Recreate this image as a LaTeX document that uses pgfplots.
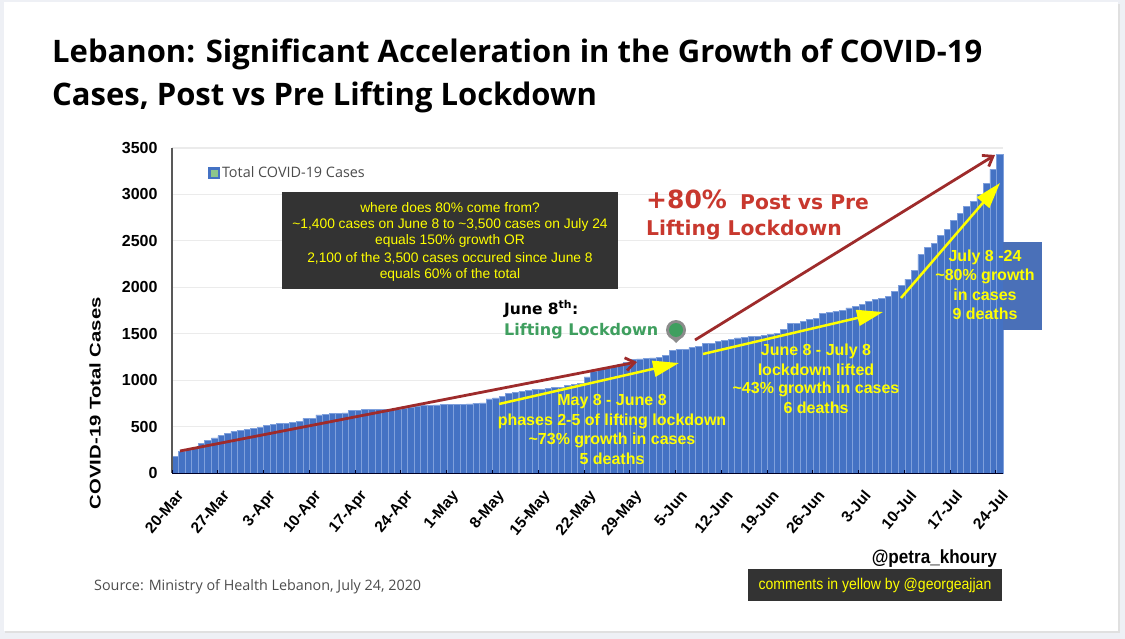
\documentclass[border=0pt]{standalone}
\usepackage{fontspec}
\setmainfont{Liberation Sans}
\newfontfamily\opensans{Open Sans}
\newfontfamily\dejavu{DejaVu Sans}
\usepackage{graphicx}
\usepackage{pgfplots}
\pgfplotsset{compat=1.18}
\usepackage{pgfplotstable}
\usetikzlibrary{arrows.meta}

\definecolor{barblue}{HTML}{4472C4}
\definecolor{baredge}{HTML}{7FA0DC}
\definecolor{darkred}{HTML}{9E2B2B}
\definecolor{txtred}{HTML}{C8382E}
\definecolor{pingreen}{HTML}{3F9F5F}
\definecolor{boxgrey}{HTML}{333333}
\definecolor{boxblue}{HTML}{4A70B8}
\definecolor{noteyellow}{HTML}{FFFF00}
\definecolor{pagegrey}{HTML}{EEF0F5}

\pgfplotstableread{
day cases
0 180
1 233
2 251
3 269
4 316
5 348
6 377
7 402
8 424
9 449
10 456
11 467
12 481
13 495
14 510
15 520
16 531
17 538
18 549
19 556
20 589
21 589
22 625
23 635
24 642
25 646
26 648
27 671
28 678
29 682
30 686
31 689
32 689
33 689
34 690
35 700
36 710
37 718
38 725
39 732
40 733
41 736
42 739
43 740
44 743
45 745
46 750
47 754
48 797
49 808
50 825
51 854
52 872
53 879
54 890
55 897
56 904
57 912
58 919
59 926
60 940
61 958
62 969
63 1034
64 1095
65 1113
66 1125
67 1150
68 1170
69 1195
70 1220
71 1228
72 1235
73 1240
74 1249
75 1270
76 1320
77 1328
78 1335
79 1350
80 1364
81 1392
82 1400
83 1418
84 1428
85 1443
86 1454
87 1461
88 1468
89 1475
90 1482
91 1493
92 1504
93 1543
94 1608
95 1615
96 1633
97 1651
98 1669
99 1716
100 1730
101 1744
102 1755
103 1777
104 1795
105 1813
106 1845
107 1866
108 1881
109 1902
110 1956
111 2021
112 2089
113 2182
114 2351
115 2433
116 2469
117 2556
118 2620
119 2717
120 2792
121 2871
122 2925
123 2997
124 3123
125 3273
126 3428
}\casestable

\begin{document}
\begin{tikzpicture}
% page and card, coordinates in reference pixels from the top left
\begin{scope}[x=1pt,y=-1pt]
\path[use as bounding box,fill=pagegrey] (0,0) rectangle (1125,639);
\fill[black!12] (5,4) rectangle (1120,633);
\fill[white] (4,2) rectangle (1118,631);
\end{scope}

\begin{axis}[
    at={(172pt,-473pt)}, anchor=south west,
    scale only axis, width=831pt, height=325pt,
    xmin=-0.5, xmax=126.5, ymin=0, ymax=3500,
    ybar, bar shift=0pt, bar width=6.54pt,
    axis line style={draw=none},
    ytick={0,500,...,3500},
    ymajorgrids, grid style={draw=black!8, line width=1.2pt},
    xtick={-0.5,6.5,...,125.5},
    xticklabels={20-Mar,27-Mar,3-Apr,10-Apr,17-Apr,24-Apr,1-May,8-May,15-May,22-May,29-May,5-Jun,12-Jun,19-Jun,26-Jun,3-Jul,10-Jul,17-Jul,24-Jul},
    tick style={draw=none},
    /pgf/number format/assume math mode=true,
    /pgf/number format/1000 sep={},
    y tick label style={font=\bfseries\fontsize{16}{18}\selectfont, xshift=-11pt},
    x tick label style={font=\bfseries\fontsize{15.5}{17}\selectfont, rotate=50, anchor=north east, xshift=-3pt, yshift=-7pt},
    ylabel={\scalebox{1.31}[1]{COVID-19 Total Cases}},
    y label style={at={(axis description cs:-0.0927,0.215)}, anchor=center, font=\bfseries\fontsize{15.5}{17}\selectfont},
    legend style={at={(axis description cs:0.0436,0.923)}, anchor=west, draw=none, fill=none,
        font=\opensans\fontsize{14.4}{16}\selectfont\color{black!70}, inner sep=0pt},
    clip=false,
]
\addplot[fill=barblue, draw=baredge, line width=0.6pt,
    legend image code/.code={
        \fill[barblue] (0pt,-5.5pt) rectangle (11pt,5.5pt);
        \fill[green!50!black!45!white] (2.5pt,-3pt) rectangle (8.5pt,3pt);
    }] table[x=day,y=cases] {\casestable};
\addlegendentry{Total COVID-19 Cases}
\end{axis}

\begin{scope}[x=1pt,y=-1pt]
% axis lines and week ticks
\draw[black!65, line width=1.2pt] (172,148) -- (172,473);
\draw[black!85!blue, line width=1pt] (172,473) -- (1003,473);
\foreach \t in {0,...,18} \draw[black!85!blue, line width=0.8pt] ({172+45.77*\t},473) -- ({172+45.77*\t},470);

% title
\node[anchor=base west,inner sep=0,font=\opensans\bfseries\fontsize{31}{35}\selectfont] at (52,63) {Lebanon: Significant Acceleration in the Growth of COVID-19};
\node[anchor=base west,inner sep=0,font=\opensans\bfseries\fontsize{31}{35}\selectfont] at (52,106) {Cases, Post vs Pre Lifting Lockdown};

% dark note
\fill[boxgrey] (282,192) rectangle (618,289);
\begin{scope}[every node/.style={text=noteyellow,inner sep=0,font=\fontsize{13.8}{15}\selectfont}]
\node at (450,208) {where does 80\% come from?};
\node at (450,225) {\textasciitilde 1,400 cases on June 8 to \textasciitilde 3,500 cases on July 24};
\node at (450,241) {equals 150\% growth OR};
\node at (450,258) {2,100 of the 3,500 cases occured since June 8};
\node at (450,275) {equals 60\% of the total};
\end{scope}

% red headline
\node[anchor=base west,inner sep=0,text=txtred,font=\dejavu\bfseries\fontsize{25}{28}\selectfont] at (646,209) {+80\%};
\node[anchor=base west,inner sep=0,text=txtred,font=\dejavu\bfseries\fontsize{20.3}{23}\selectfont] at (740,210) {Post vs Pre};
\node[anchor=base west,inner sep=0,text=txtred,font=\dejavu\bfseries\fontsize{20.3}{23}\selectfont] at (646,236) {Lifting Lockdown};

% June 8 marker
\node[anchor=base west,inner sep=0,font=\dejavu\bfseries\fontsize{15.5}{18}\selectfont] at (504,314) {June 8\textsuperscript{th}:};
\node[anchor=base west,inner sep=0,text=pingreen,font=\dejavu\bfseries\fontsize{16}{18}\selectfont] at (504,335) {Lifting Lockdown};
\fill[black!45] (667,334) -- (676,343) -- (685,334) -- cycle;
\fill[black!45] (676,330) circle (10);
\fill[pingreen] (676,330) circle (7);

% red arrows
\draw[darkred,line width=2.8pt,-{Straight Barb[length=9pt,width=13pt]}] (180,451) -- (637,362);
\draw[darkred,line width=2.8pt,-{Straight Barb[length=9pt,width=13pt]}] (695,340) -- (995,155);

% yellow arrows
\draw[noteyellow,line width=2.5pt,-{Triangle[length=26pt,width=16pt]}] (499,404) -- (679,363);
\draw[noteyellow,line width=2.5pt,-{Triangle[length=26pt,width=16pt]}] (703,354) -- (883,312);
\draw[noteyellow,line width=2.5pt,-{Triangle[length=26pt,width=16pt]}] (901,298) -- (1000,183);

% blue side box
\fill[boxblue] (1003,242) rectangle (1042,330);

% yellow notes
\begin{scope}[every node/.style={text=noteyellow,inner sep=0,font=\bfseries\fontsize{16}{18}\selectfont}]
\node at (612,402) {May 8 - June 8};
\node at (612,421) {phases 2-5 of lifting lockdown};
\node at (612,440) {\textasciitilde 73\% growth in cases};
\node at (612,459) {5 deaths};
\node at (816,351) {June 8 - July 8};
\node at (816,370) {lockdown lifted};
\node at (816,389) {\textasciitilde 43\% growth in cases};
\node at (816,408) {6 deaths};
\node at (985,257) {July 8 -24};
\node at (985,276) {\textasciitilde 80\% growth};
\node at (985,295) {in cases};
\node at (985,314) {9 deaths};
\end{scope}

% footer
\node[anchor=base east,inner sep=0,font=\bfseries\fontsize{19}{22}\selectfont] at (997,563) {\scalebox{0.9}[1]{@petra\_khoury}};
\fill[boxgrey] (748,569) rectangle (1002,601);
\node[text=noteyellow,inner sep=0,font=\fontsize{15.6}{18}\selectfont] at (875,585) {\scalebox{0.9}[1]{comments in yellow by @georgeajjan}};
\node[anchor=base west,inner sep=0,text=black!70,font=\opensans\fontsize{14.35}{16}\selectfont] at (94,590) {Source: Ministry of Health Lebanon, July 24, 2020};
\end{scope}
\end{tikzpicture}
\end{document}
